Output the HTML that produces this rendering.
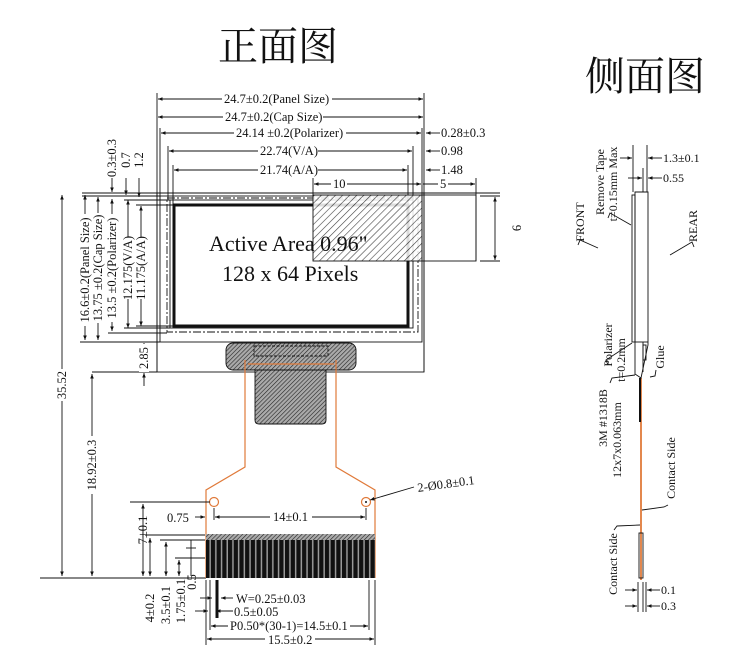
<!DOCTYPE html>
<html><head><meta charset="utf-8"><style>
html,body{margin:0;padding:0;background:#fff;}
svg{display:block;}
text{font-family:"Liberation Serif","Noto Serif CJK SC",serif;fill:#111;}
</style></head><body>
<svg width="741" height="661" viewBox="0 0 741 661" xmlns="http://www.w3.org/2000/svg">
<defs>
<pattern id="h" width="5" height="5" patternUnits="userSpaceOnUse" patternTransform="rotate(45)">
<rect width="5" height="5" fill="#fff"/><line x1="0" y1="0" x2="0" y2="5" stroke="#222" stroke-width="1.2"/></pattern>
<pattern id="hd" width="3" height="3" patternUnits="userSpaceOnUse" patternTransform="rotate(45)">
<rect width="3" height="3" fill="#aaa"/><line x1="0" y1="0" x2="0" y2="3" stroke="#222" stroke-width="1.2"/></pattern>
<pattern id="pins" width="5.7" height="10" patternUnits="userSpaceOnUse">
<rect width="5.7" height="10" fill="#999"/><rect width="4.2" height="10" fill="#111"/></pattern>
<marker id="a" viewBox="0 0 10 10" refX="10" refY="5" markerWidth="7" markerHeight="5" orient="auto-start-reverse"><path d="M0,1 L10,5 L0,9z" fill="#111"/></marker>
</defs>

<text x="218" y="60" font-size="40">正面图</text>
<text x="585" y="90" font-size="40">侧面图</text>

<g stroke="#111" fill="none" stroke-width="0.9">
<line x1="157" y1="93" x2="157" y2="372"/>
<line x1="424" y1="93" x2="424" y2="372"/>
<line x1="160" y1="128" x2="160" y2="200"/>
<line x1="422" y1="128" x2="422" y2="200"/>
<line x1="168" y1="146" x2="168" y2="200"/>
<line x1="413" y1="146" x2="413" y2="200"/>
<line x1="173" y1="165" x2="173" y2="206"/>
<line x1="408" y1="165" x2="408" y2="206"/>
<line x1="313" y1="178" x2="313" y2="196"/>
<line x1="476" y1="178" x2="476" y2="261"/>
<line x1="158" y1="99" x2="423" y2="99" marker-start="url(#a)" marker-end="url(#a)"/>
<line x1="158" y1="117" x2="423" y2="117" marker-start="url(#a)" marker-end="url(#a)"/>
<line x1="161" y1="133" x2="421" y2="133" marker-start="url(#a)" marker-end="url(#a)"/>
<line x1="169" y1="151" x2="412" y2="151" marker-start="url(#a)" marker-end="url(#a)"/>
<line x1="174" y1="170" x2="407" y2="170" marker-start="url(#a)" marker-end="url(#a)"/>
<line x1="314" y1="184" x2="421" y2="184" marker-start="url(#a)" marker-end="url(#a)"/>
<line x1="423" y1="184" x2="475" y2="184" marker-end="url(#a)"/>
<line x1="440" y1="133" x2="426" y2="133" marker-end="url(#a)"/>
<line x1="440" y1="151" x2="426" y2="151" marker-end="url(#a)"/>
<line x1="440" y1="170" x2="426" y2="170" marker-end="url(#a)"/>
<line x1="82" y1="193" x2="500" y2="193"/>
<line x1="82" y1="196" x2="160" y2="196"/>
<rect x="157" y="193" width="267" height="179"/>
<rect x="160" y="196" width="262" height="146"/>
<rect x="167" y="198" width="251" height="134" stroke-dasharray="8 2 2 2"/>
<rect x="170" y="200" width="243" height="128"/>
<rect x="174" y="205" width="234" height="121" stroke-width="3"/>
</g>
<g fill="#fff">
<rect x="222" y="92" width="110" height="13"/>
<rect x="223" y="110" width="100" height="13"/>
<rect x="234" y="126" width="112" height="13"/>
<rect x="258" y="144" width="60" height="13"/>
<rect x="258" y="163" width="60" height="13"/>
<rect x="331" y="177" width="16" height="13"/>
<rect x="438" y="177" width="10" height="13"/>
<rect x="271" y="510" width="40" height="13"/>
<rect x="228" y="619" width="122" height="13"/>
<rect x="266" y="633" width="48" height="13"/>
</g>
<rect x="313" y="195" width="109" height="66" fill="url(#h)" fill-opacity="0.85" stroke="#111" stroke-width="0.9"/>
<text x="209" y="251" font-size="22">Active Area 0.96"</text>
<text x="222" y="281" font-size="22">128 x 64 Pixels</text>

<g stroke="#111" fill="none" stroke-width="0.9">
<rect x="422" y="195" width="54" height="66"/>
<line x1="480" y1="196" x2="500" y2="196"/><line x1="480" y1="261" x2="500" y2="261"/>
<line x1="495" y1="197" x2="495" y2="260" marker-start="url(#a)" marker-end="url(#a)"/>
<line x1="62" y1="195" x2="62" y2="576" marker-start="url(#a)" marker-end="url(#a)"/>
<line x1="85" y1="195" x2="85" y2="340" marker-start="url(#a)" marker-end="url(#a)"/>
<line x1="98" y1="197" x2="98" y2="340" marker-start="url(#a)" marker-end="url(#a)"/>
<line x1="112" y1="199" x2="112" y2="331" marker-start="url(#a)" marker-end="url(#a)"/>
<line x1="128" y1="200" x2="128" y2="328" marker-start="url(#a)" marker-end="url(#a)"/>
<line x1="141" y1="206" x2="141" y2="326" marker-start="url(#a)" marker-end="url(#a)"/>
<line x1="80" y1="342" x2="160" y2="342"/>
<line x1="108" y1="333" x2="167" y2="333"/>
<line x1="124" y1="328" x2="170" y2="328"/>
<line x1="136" y1="326" x2="174" y2="326"/>
<line x1="124" y1="200" x2="170" y2="200"/>
<line x1="136" y1="205" x2="174" y2="205"/>
<line x1="92" y1="372" x2="157" y2="372"/>
<line x1="92" y1="374" x2="92" y2="576" marker-start="url(#a)" marker-end="url(#a)"/>
<line x1="144" y1="356" x2="144" y2="343" marker-end="url(#a)"/>
<line x1="144" y1="386" x2="144" y2="373" marker-end="url(#a)"/>
<line x1="112" y1="178" x2="112" y2="192" marker-end="url(#a)"/>
<line x1="126" y1="178" x2="126" y2="195" marker-end="url(#a)"/>
<line x1="139" y1="178" x2="139" y2="197" marker-end="url(#a)"/>
<line x1="40" y1="578" x2="206" y2="578"/>
<rect x="226" y="343" width="130" height="27" rx="7" fill="url(#hd)"/>
<rect x="254" y="346" width="74" height="10" stroke-dasharray="3 1.5"/>
<path d="M255 370 H326 V420 q0 4 -4 4 H259 q-4 0 -4 -4z" fill="url(#hd)"/>
</g>
<g fill="#fff">
<rect x="80" y="214" width="10" height="112"/>
<rect x="93" y="213" width="10" height="110"/>
<rect x="107" y="214" width="10" height="108"/>
<rect x="123" y="237" width="10" height="62"/>
<rect x="136" y="237" width="10" height="62"/>
<rect x="57" y="369" width="10" height="32"/>
<rect x="87" y="436" width="10" height="58"/>
<rect x="138" y="514" width="10" height="32"/>
<rect x="139" y="344" width="10" height="28"/>
</g>
<g stroke="#e07a3a" fill="none" stroke-width="1.2">
<path d="M245 360 V467 L206 490 V578"/>
<path d="M336 360 V467 L375 490 V578"/>
<line x1="248" y1="364" x2="334" y2="364"/>
<circle cx="214" cy="502" r="4.5"/>
<circle cx="366" cy="502" r="4.5"/>
<line x1="641" y1="378" x2="641" y2="580" stroke-width="1.8"/>
</g>
<circle cx="366" cy="502" r="1" fill="#111"/>
<rect x="206" y="534" width="169" height="6" fill="url(#hd)"/>
<rect x="206" y="540" width="169" height="38" fill="url(#pins)"/>
<g stroke="#111" fill="none" stroke-width="0.9">
<line x1="214" y1="508" x2="214" y2="520"/><line x1="366" y1="508" x2="366" y2="520"/>
<line x1="215" y1="517" x2="270" y2="517" marker-start="url(#a)"/>
<line x1="312" y1="517" x2="365" y2="517" marker-end="url(#a)"/>
<line x1="195" y1="517" x2="205" y2="517" marker-end="url(#a)"/>
<line x1="370" y1="500" x2="414" y2="487" marker-start="url(#a)"/>
<line x1="130" y1="502" x2="210" y2="502"/>
<line x1="143" y1="504" x2="143" y2="576" marker-start="url(#a)" marker-end="url(#a)"/>
<line x1="145" y1="535" x2="205" y2="535"/>
<line x1="150" y1="538" x2="150" y2="576" marker-start="url(#a)" marker-end="url(#a)"/>
<line x1="160" y1="540" x2="205" y2="540"/>
<line x1="166" y1="542" x2="166" y2="576" marker-start="url(#a)" marker-end="url(#a)"/>
<line x1="175" y1="558" x2="205" y2="558"/>
<line x1="179" y1="560" x2="179" y2="576" marker-start="url(#a)" marker-end="url(#a)"/>
<line x1="186" y1="548" x2="196" y2="548"/>
<line x1="191" y1="540" x2="191" y2="576"/>
<line x1="206" y1="580" x2="206" y2="645"/><line x1="375" y1="580" x2="375" y2="645"/>
<line x1="210" y1="580" x2="210" y2="630"/><line x1="369" y1="580" x2="369" y2="630"/>
<line x1="207" y1="639" x2="265" y2="639" marker-start="url(#a)"/>
<line x1="315" y1="639" x2="374" y2="639" marker-end="url(#a)"/>
<line x1="211" y1="626" x2="228" y2="626" marker-start="url(#a)"/>
<line x1="350" y1="626" x2="368" y2="626" marker-end="url(#a)"/>
<line x1="233" y1="598" x2="221" y2="598" marker-end="url(#a)"/>
<line x1="233" y1="611" x2="216" y2="611" marker-end="url(#a)"/>
<line x1="200" y1="598" x2="212" y2="598" marker-end="url(#a)"/>
<line x1="195" y1="611" x2="208" y2="611" marker-end="url(#a)"/>
<line x1="217" y1="580" x2="217" y2="618" stroke-width="3"/>

<line x1="633" y1="145" x2="633" y2="192"/><line x1="647" y1="145" x2="647" y2="192"/>
<line x1="643" y1="168" x2="643" y2="192"/>
<line x1="620" y1="158" x2="632" y2="158" marker-end="url(#a)"/>
<line x1="662" y1="158" x2="648" y2="158" marker-end="url(#a)"/>
<line x1="628" y1="178" x2="642" y2="178" marker-end="url(#a)"/>
<line x1="662" y1="178" x2="648" y2="178" marker-end="url(#a)"/>
<rect x="632" y="195" width="3" height="147"/>
<path d="M635 192 H648 V345 L641 378 L635 374 Z"/>
<line x1="643" y1="342" x2="643" y2="372"/>
<line x1="635" y1="342" x2="648" y2="342"/>
<rect x="643" y="345" width="3" height="15"/>
<line x1="640" y1="378" x2="640" y2="422" stroke-width="2"/>
<rect x="639" y="533" width="4" height="45"/>
<line x1="638" y1="582" x2="638" y2="612"/><line x1="643" y1="582" x2="643" y2="612"/><line x1="646" y1="582" x2="646" y2="612"/>
<line x1="625" y1="590" x2="637" y2="590" marker-end="url(#a)"/>
<line x1="660" y1="590" x2="647" y2="590" marker-end="url(#a)"/>
<line x1="625" y1="606" x2="637" y2="606" marker-end="url(#a)"/>
<line x1="660" y1="606" x2="647" y2="606" marker-end="url(#a)"/>
<path d="M578 245 L580 240 L598 248"/>
<path d="M608 218 L610 213 L631 225"/>
<path d="M694 247 L692 242 L670 255"/>
<path d="M608 365 L606 360 L632 343"/>
<path d="M610 383 L612 378 L635 375"/>
<path d="M650 377 L655 376 L656 370"/>
<path d="M668 505 L664 507 L642 510"/>
<path d="M614 530 L617 526 L640 525"/>
</g>

<g font-size="12.5">
<text x="224" y="103">24.7±0.2(Panel Size)</text>
<text x="225" y="121">24.7±0.2(Cap Size)</text>
<text x="236" y="137">24.14 ±0.2(Polarizer)</text>
<text x="260" y="155">22.74(V/A)</text>
<text x="260" y="174">21.74(A/A)</text>
<text x="333" y="188">10</text>
<text x="440" y="188">5</text>
<text x="441" y="137">0.28±0.3</text>
<text x="441" y="155">0.98</text>
<text x="441" y="174">1.48</text>
<text transform="translate(521,228) rotate(-90)" text-anchor="middle">6</text>
<text x="273" y="521">14±0.1</text>
<text x="167" y="522">0.75</text>
<text transform="translate(418,492) rotate(-8)">2-Ø0.8±0.1</text>
<text x="236" y="603">W=0.25±0.03</text>
<text x="234" y="616">0.5±0.05</text>
<text x="230" y="630">P0.50*(30-1)=14.5±0.1</text>
<text x="268" y="644">15.5±0.2</text>

<text transform="translate(89,270) rotate(-90)" text-anchor="middle">16.6±0.2(Panel Size)</text>
<text transform="translate(102,268) rotate(-90)" text-anchor="middle">13.75 ±0.2(Cap Size)</text>
<text transform="translate(116,268) rotate(-90)" text-anchor="middle">13.5 ±0.2(Polarizer)</text>
<text transform="translate(132,268) rotate(-90)" text-anchor="middle">12.175(V/A)</text>
<text transform="translate(145,268) rotate(-90)" text-anchor="middle">11.175(A/A)</text>
<text transform="translate(116,158) rotate(-90)" text-anchor="middle">0.3±0.3</text>
<text transform="translate(130,160) rotate(-90)" text-anchor="middle">0.7</text>
<text transform="translate(143,160) rotate(-90)" text-anchor="middle">1.2</text>
<text transform="translate(148,358) rotate(-90)" text-anchor="middle">2.85</text>
<text transform="translate(66,385) rotate(-90)" text-anchor="middle">35.52</text>
<text transform="translate(96,465) rotate(-90)" text-anchor="middle">18.92±0.3</text>
<text transform="translate(147,530) rotate(-90)" text-anchor="middle">7±0.1</text>
<text transform="translate(154,608) rotate(-90)" text-anchor="middle">4±0.2</text>
<text transform="translate(170,605) rotate(-90)" text-anchor="middle">3.5±0.1</text>
<text transform="translate(185,601) rotate(-90)" text-anchor="middle">1.75±0.1</text>
<text transform="translate(196,582) rotate(-90)" text-anchor="middle">0.5</text>
</g>

<g font-size="12">
<text x="663" y="162">1.3±0.1</text>
<text x="663" y="182">0.55</text>
<text x="661" y="594">0.1</text>
<text x="661" y="610">0.3</text>
<text transform="translate(584,222) rotate(-90)" text-anchor="middle">FRONT</text>
<text transform="translate(604,182) rotate(-90)" text-anchor="middle">Remove Tape</text>
<text transform="translate(617,184) rotate(-90)" text-anchor="middle">t=0.15mm Max</text>
<text transform="translate(697,226) rotate(-90)" text-anchor="middle">REAR</text>
<text transform="translate(612,345) rotate(-90)" text-anchor="middle">Polarizer</text>
<text transform="translate(625,360) rotate(-90)" text-anchor="middle">t=0.2mm</text>
<text transform="translate(664,357) rotate(-90)" text-anchor="middle">Glue</text>
<text transform="translate(607,418) rotate(-90)" text-anchor="middle">3M #1318B</text>
<text transform="translate(621,440) rotate(-90)" text-anchor="middle">12x7x0.063mm</text>
<text transform="translate(675,468) rotate(-90)" text-anchor="middle">Contact Side</text>
<text transform="translate(617,564) rotate(-90)" text-anchor="middle">Contact Side</text>
</g>
</svg>
</body></html>
